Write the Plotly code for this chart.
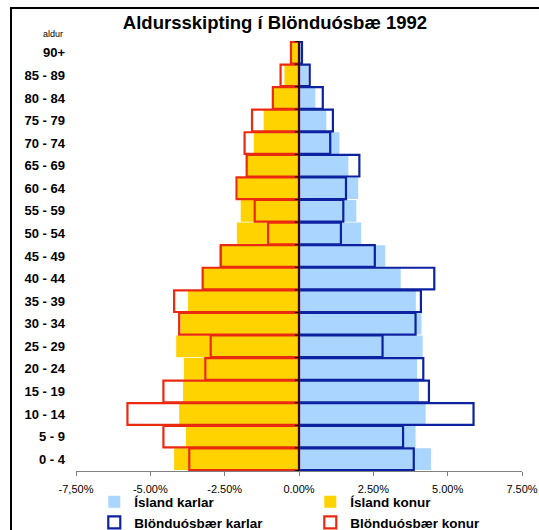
import plotly.graph_objects as go

# ---- data (percent of population), listed from youngest to oldest ----
ages = ["0 - 4", "5 - 9", "10 - 14", "15 - 19", "20 - 24", "25 - 29", "30 - 34",
        "35 - 39", "40 - 44", "45 - 49", "50 - 54", "55 - 59", "60 - 64",
        "65 - 69", "70 - 74", "75 - 79", "80 - 84", "85 - 89", "90+"]

island_karlar = [4.44, 3.92, 4.26, 4.03, 3.97, 4.16, 4.12, 3.93, 3.42, 2.90,
                 2.09, 1.93, 1.99, 1.66, 1.36, 0.92, 0.55, 0.30, 0.10]
island_konur = [4.20, 3.80, 4.03, 3.90, 3.87, 4.13, 3.99, 3.73, 3.22, 2.69,
                2.09, 1.96, 2.05, 1.75, 1.52, 1.19, 0.85, 0.49, 0.24]
blond_karlar = [3.86, 3.50, 5.87, 4.37, 4.18, 2.81, 3.92, 4.10, 4.55, 2.55,
                1.41, 1.49, 1.58, 2.03, 1.05, 1.14, 0.80, 0.36, 0.10]
blond_konur = [3.69, 4.56, 5.77, 4.56, 3.15, 2.97, 4.03, 4.20, 3.24, 2.63,
               1.04, 1.49, 2.10, 1.76, 1.83, 1.58, 0.88, 0.62, 0.27]

x_tickvals = [-7.5, -5.0, -2.5, 0.0, 2.5, 5.0, 7.5]
x_ticktext = ["-7,50%", "-5.00%", "-2.50%", "0.00%", "2.50%", "5.00%", "7.50%"]

title_text = "Aldursskipting í Blönduósbæ 1992"

# ---- styles ----
FONT = "Liberation Sans, Arial, sans-serif"
LIGHTBLUE = "#AAD5FE"
YELLOW = "#FFD300"
RED = "#EA2A10"
BLUE = "#0C22A0"

W, H = 539, 530
ML, MR, MT, MB = 76, 17, 41, 59
PW = W - ML - MR
PH = H - MT - MB

fig = go.Figure()
fig.add_trace(go.Bar(
    name="Ísland karlar", y=ages, x=island_karlar, orientation="h",
    marker=dict(color=LIGHTBLUE, line=dict(width=0)),
))
fig.add_trace(go.Bar(
    name="Ísland konur", y=ages, x=[-v for v in island_konur], orientation="h",
    marker=dict(color=YELLOW, line=dict(width=0)),
))
fig.add_trace(go.Bar(
    name="Blönduósbær karlar", y=ages, x=blond_karlar, orientation="h",
    marker=dict(color="rgba(255,255,255,0)", line=dict(color=BLUE, width=2.2)),
))
fig.add_trace(go.Bar(
    name="Blönduósbær konur", y=ages, x=[-v for v in blond_konur], orientation="h",
    marker=dict(color="rgba(255,255,255,0)", line=dict(color=RED, width=2.2)),
))

shapes = []
# vertical axis line at zero, on top of bars
shapes.append(dict(type="line", xref="x", yref="paper", x0=0, x1=0, y0=0, y1=1,
                   line=dict(color="black", width=1.5), layer="above"))
# small category ticks on the zero axis
for i in range(len(ages) + 1):
    shapes.append(dict(type="line", xref="x", yref="y", x0=-0.14, x1=0,
                       y0=i - 0.5, y1=i - 0.5,
                       line=dict(color="black", width=1), layer="above"))
# chart frame
shapes.append(dict(type="rect", xref="paper", yref="paper",
                   x0=(11 - ML) / PW, x1=1.2,
                   y0=-0.3, y1=(H - MB - 8) / PH,
                   line=dict(color="black", width=2), fillcolor="rgba(0,0,0,0)"))

fig.update_layout(
    width=W, height=H,
    margin=dict(l=ML, r=MR, t=MT, b=MB, autoexpand=False),
    paper_bgcolor="white", plot_bgcolor="white",
    barmode="overlay", bargap=0.04,
    font=dict(family=FONT, color="black"),
    title=dict(text=title_text, xref="container", yref="container",
               x=275 / W, xanchor="center", y=1 - 23 / H, yanchor="middle",
               font=dict(family=FONT, size=18.5, weight="bold", color="black")),
    xaxis=dict(range=[-7.5, 7.5], tickvals=x_tickvals, ticktext=x_ticktext,
               showgrid=False, zeroline=False, showline=True, linecolor="#808080",
               linewidth=1, ticks="outside", ticklen=4, tickcolor="#808080",
               ticklabelstandoff=4,
               tickfont=dict(family=FONT, size=11, color="black"), fixedrange=True),
    yaxis=dict(type="category", categoryorder="array", categoryarray=ages,
               showgrid=False, zeroline=False, showline=False, ticks="",
               ticklabelstandoff=10,
               tickfont=dict(family=FONT, size=13, weight="bold", color="black"),
               fixedrange=True),
    legend=dict(orientation="h", x=0.041, xanchor="left", y=-0.036, yanchor="top",
                entrywidth=171, entrywidthmode="pixels", itemwidth=30,
                traceorder="normal",
                font=dict(family=FONT, size=13.5, weight="bold", color="black"),
                bgcolor="rgba(0,0,0,0)"),
    shapes=shapes,
    annotations=[dict(text="aldur", xref="paper", yref="paper",
                      x=(53 - ML) / PW, y=(H - MB - 34) / PH,
                      xanchor="center", yanchor="middle", showarrow=False,
                      font=dict(family=FONT, size=9, color="black"))],
    showlegend=True,
)

fig.write_html("out.html", config={"displayModeBar": False},
               post_script="document.body.style.margin='0';document.body.style.overflow='hidden';")
